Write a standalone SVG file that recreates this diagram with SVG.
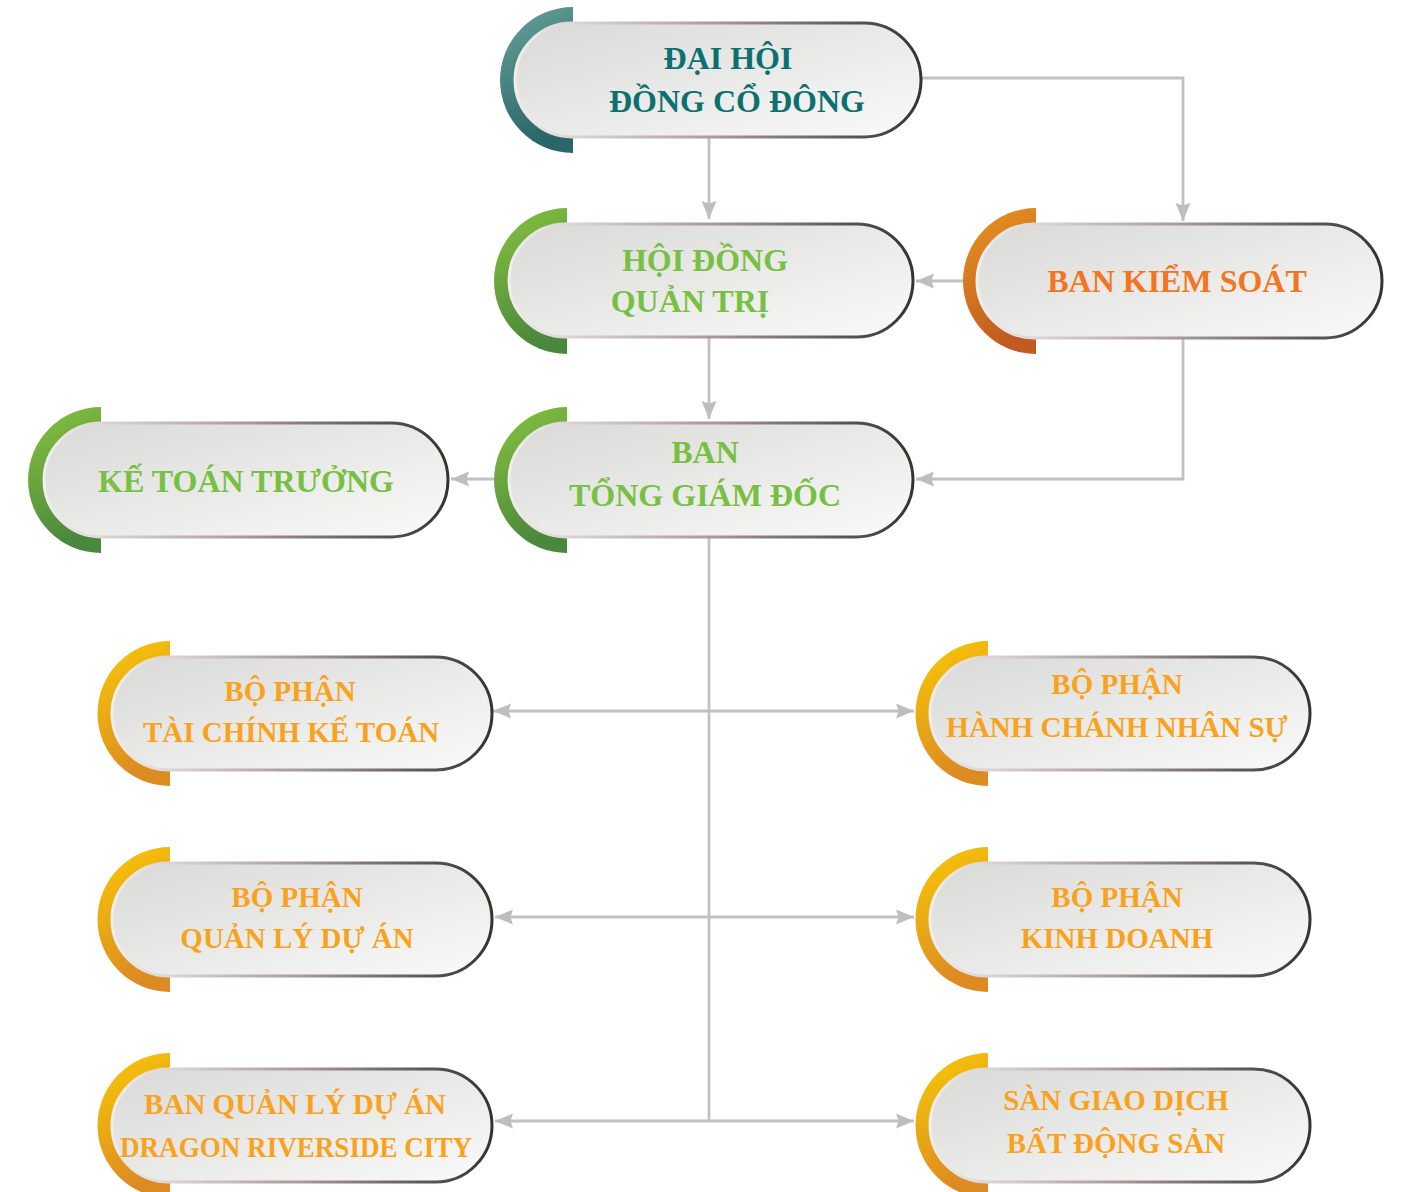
<svg xmlns="http://www.w3.org/2000/svg" width="1404" height="1192" viewBox="0 0 1404 1192">
<defs>
<linearGradient id="pf" x1="0" y1="0" x2="1" y2="1"><stop offset="0" stop-color="#d9dad7"/><stop offset="0.55" stop-color="#ebebea"/><stop offset="1" stop-color="#fafafa"/></linearGradient>
<linearGradient id="ps" x1="0" y1="0" x2="1" y2="0"><stop offset="0" stop-color="#f2eeee"/><stop offset="0.5" stop-color="#a8999a"/><stop offset="1" stop-color="#333333"/></linearGradient>
<linearGradient id="gTeal" x1="0" y1="0" x2="0.3" y2="1"><stop offset="0" stop-color="#66a49c"/><stop offset="1" stop-color="#2a6567"/></linearGradient>
<linearGradient id="gGreen" x1="0" y1="0" x2="0.3" y2="1"><stop offset="0" stop-color="#88c43f"/><stop offset="1" stop-color="#4b873d"/></linearGradient>
<linearGradient id="gOrange" x1="0" y1="0" x2="0.3" y2="1"><stop offset="0" stop-color="#e8971f"/><stop offset="1" stop-color="#c25a22"/></linearGradient>
<linearGradient id="gYellow" x1="0" y1="0" x2="0.3" y2="1"><stop offset="0" stop-color="#f9ca06"/><stop offset="1" stop-color="#dc8a22"/></linearGradient>
<marker id="ah" markerUnits="userSpaceOnUse" markerWidth="22" markerHeight="18" refX="18" refY="7.5" orient="auto-start-reverse">
<path d="M0,0 L18,7.5 L0,15 L2.5,7.5 Z" fill="#bebebe"/>
</marker>
</defs>
<style>
.pill{fill:url(#pf);stroke:url(#ps);stroke-width:3}
.t{font-family:"Liberation Serif","Times New Roman",serif;font-weight:bold;text-anchor:middle}
.big{font-size:32px}
.sm{font-size:29px}
.teal{fill:#0d7070}
.green{fill:#78c043}
.orange{fill:#f37421}
.yel{fill:#f8a21e}
.c{fill:none;stroke:#c1c1c1;stroke-width:2.8}
</style>
<rect width="1404" height="1192" fill="#ffffff"/>

<g id="connectors">
<path class="c" d="M709,138 V219" marker-end="url(#ah)"/>
<path class="c" d="M921,78 H1183 V221" marker-end="url(#ah)"/>
<path class="c" d="M963,281 H916" marker-end="url(#ah)"/>
<path class="c" d="M709,338 V419" marker-end="url(#ah)"/>
<path class="c" d="M1183,339 V479 H916" marker-end="url(#ah)"/>
<path class="c" d="M494,479 H451" marker-end="url(#ah)"/>
<path class="c" d="M709,537 V1121"/>
<path class="c" d="M493,711 H914" marker-start="url(#ah)" marker-end="url(#ah)"/>
<path class="c" d="M495,917 H914" marker-start="url(#ah)" marker-end="url(#ah)"/>
<path class="c" d="M495,1121 H914" marker-start="url(#ah)" marker-end="url(#ah)"/>
</g>

<g id="dai-hoi">
<path d="M573,7 A73,73 0 0 0 573,153 Z" fill="url(#gTeal)"/>
<rect class="pill" x="515" y="23" width="406" height="114" rx="57"/>
<text class="t big teal" x="728" y="69">ĐẠI HỘI</text>
<text class="t big teal" x="737" y="112">ĐỒNG CỔ ĐÔNG</text>
</g>

<g id="hoi-dong-quan-tri">
<path d="M567,208 A73,73 0 0 0 567,354 Z" fill="url(#gGreen)"/>
<rect class="pill" x="509" y="224" width="404" height="113" rx="56.5"/>
<text class="t big green" x="705" y="271">HỘI ĐỒNG</text>
<text class="t big green" x="690" y="312">QUẢN TRỊ</text>
</g>

<g id="ban-kiem-soat">
<path d="M1036,208 A73,73 0 0 0 1036,354 Z" fill="url(#gOrange)"/>
<rect class="pill" x="977" y="224" width="405" height="114" rx="57"/>
<text class="t big orange" x="1177" y="292">BAN KIỂM SOÁT</text>
</g>

<g id="ban-tong-giam-doc">
<path d="M567,407 A73,73 0 0 0 567,553 Z" fill="url(#gGreen)"/>
<rect class="pill" x="509" y="423" width="404" height="114" rx="57"/>
<text class="t big green" x="705" y="463">BAN</text>
<text class="t big green" x="705" y="506">TỔNG GIÁM ĐỐC</text>
</g>

<g id="ke-toan-truong">
<path d="M101,407 A73,73 0 0 0 101,553 Z" fill="url(#gGreen)"/>
<rect class="pill" x="44" y="423" width="404" height="114" rx="57"/>
<text class="t big green" x="246" y="492">KẾ TOÁN TRƯỞNG</text>
</g>

<g id="tai-chinh-ke-toan">
<path d="M170,641 A72.5,72.5 0 0 0 170,786 Z" fill="url(#gYellow)"/>
<rect class="pill" x="112" y="657" width="380" height="113" rx="56.5"/>
<text class="t sm yel" x="290" y="701">BỘ PHẬN</text>
<text class="t sm yel" x="291" y="742">TÀI CHÍNH KẾ TOÁN</text>
</g>

<g id="hanh-chanh-nhan-su">
<path d="M988,641 A72.5,72.5 0 0 0 988,786 Z" fill="url(#gYellow)"/>
<rect class="pill" x="930" y="657" width="380" height="113" rx="56.5"/>
<text class="t sm yel" x="1117" y="694">BỘ PHẬN</text>
<text class="t sm yel" x="1117" y="737">HÀNH CHÁNH NHÂN SỰ</text>
</g>

<g id="quan-ly-du-an">
<path d="M170,847 A72.5,72.5 0 0 0 170,992 Z" fill="url(#gYellow)"/>
<rect class="pill" x="112" y="863" width="380" height="113" rx="56.5"/>
<text class="t sm yel" x="297" y="907">BỘ PHẬN</text>
<text class="t sm yel" x="297" y="948">QUẢN LÝ DỰ ÁN</text>
</g>

<g id="kinh-doanh">
<path d="M988,847 A72.5,72.5 0 0 0 988,992 Z" fill="url(#gYellow)"/>
<rect class="pill" x="930" y="863" width="380" height="113" rx="56.5"/>
<text class="t sm yel" x="1117" y="907">BỘ PHẬN</text>
<text class="t sm yel" x="1117" y="948">KINH DOANH</text>
</g>

<g id="ban-quan-ly-du-an-drc">
<path d="M170,1053 A72.5,72.5 0 0 0 170,1198 Z" fill="url(#gYellow)"/>
<rect class="pill" x="112" y="1069" width="380" height="113" rx="56.5"/>
<text class="t sm yel" x="295" y="1114">BAN QUẢN LÝ DỰ ÁN</text>
<text class="t sm yel" x="296" y="1157" textLength="352" lengthAdjust="spacingAndGlyphs">DRAGON RIVERSIDE CITY</text>
</g>

<g id="san-giao-dich">
<path d="M988,1053 A72.5,72.5 0 0 0 988,1198 Z" fill="url(#gYellow)"/>
<rect class="pill" x="930" y="1069" width="380" height="113" rx="56.5"/>
<text class="t sm yel" x="1116" y="1110">SÀN GIAO DỊCH</text>
<text class="t sm yel" x="1116" y="1153">BẤT ĐỘNG SẢN</text>
</g>
</svg>
